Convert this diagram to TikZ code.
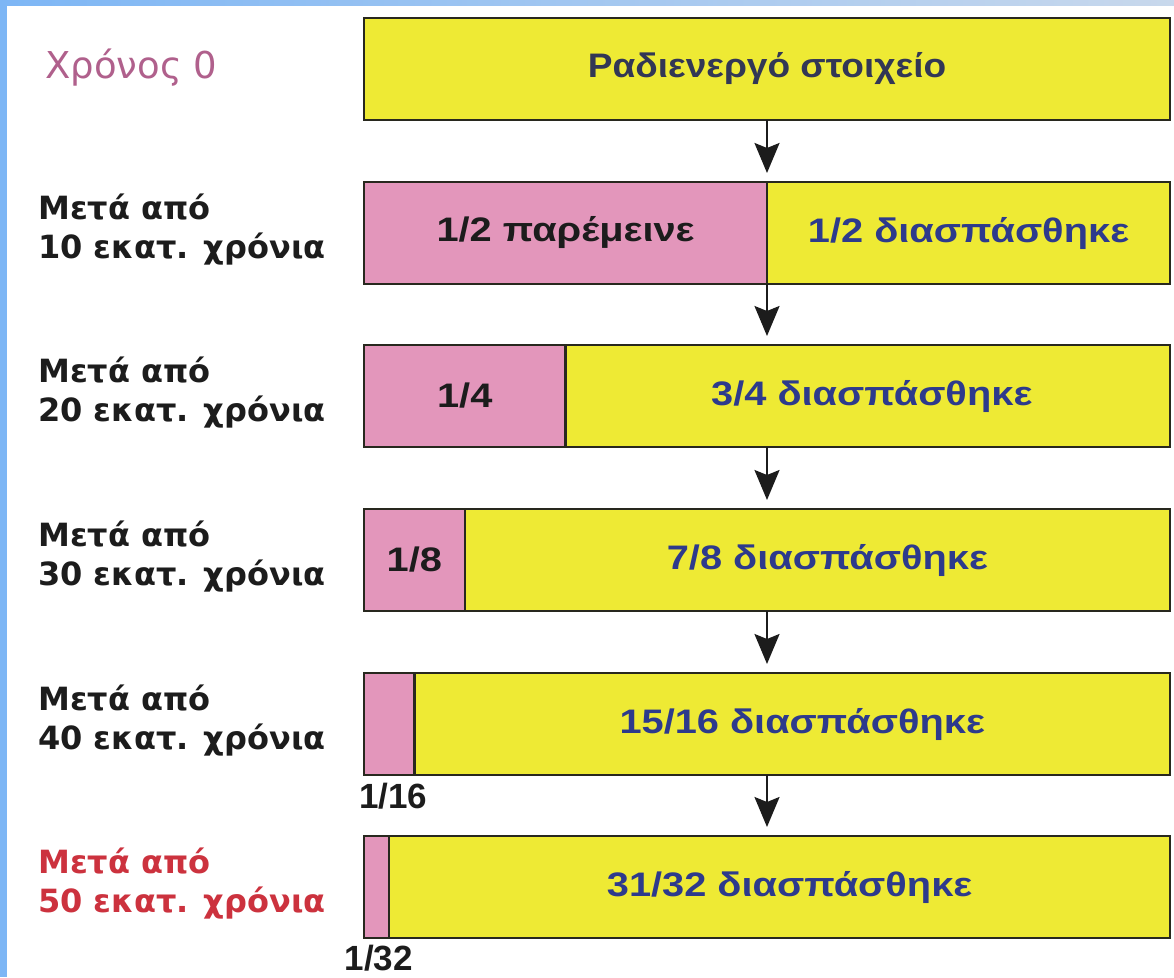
\documentclass[tikz,border=0pt]{standalone}
\usepackage{fontspec}
\setmainfont{Liberation Sans}
\newfontfamily\labfont{DejaVu Sans}
\newfontfamily\barfont[FakeStretch=1.17]{Liberation Sans}
\newfontfamily\headfont[FakeStretch=1.09]{Liberation Sans}
\usetikzlibrary{arrows.meta}
\definecolor{barYellow}{RGB}{238,234,52}
\definecolor{barPink}{RGB}{227,150,187}
\definecolor{txtBlue}{RGB}{45,58,140}
\definecolor{txtDark}{RGB}{28,28,28}
\definecolor{txtNavy}{RGB}{50,55,85}
\definecolor{txtMauve}{RGB}{176,96,140}
\definecolor{txtRed}{RGB}{204,50,62}
\definecolor{edge}{RGB}{40,40,30}
\definecolor{frameA}{RGB}{125,182,245}
\definecolor{frameB}{RGB}{200,216,236}
\begin{document}
\begin{tikzpicture}[x=1pt,y=-1pt,
  barbase/.style={draw=edge, line width=2.5pt, minimum height=102pt, inner sep=0pt, outer sep=0pt},
  ypart/.style={barbase, fill=barYellow, font=\barfont\fontsize{34}{40}\selectfont\bfseries, text=txtBlue},
  ppart/.style={barbase, fill=barPink, font=\barfont\fontsize{34}{40}\selectfont\bfseries, text=txtDark},
  barframe/.style={inner sep=0pt, outer sep=0pt, minimum width=806pt, minimum height=102pt},
  timelab/.style={anchor=west, align=left, inner sep=0pt, font=\labfont\bfseries\fontsize{32}{39}\selectfont, text=txtDark},
  fraclab/.style={anchor=north, inner sep=0pt, font=\fontsize{35}{40}\selectfont\bfseries, text=txtDark},
  flow/.style={-{Stealth[length=30pt,width=25pt,inset=5pt]}, line width=2.2pt, draw=txtDark}
]
\useasboundingbox (0,0) rectangle (1174,977);
\fill[white] (0,0) rectangle (1174,977);
\fill[frameA] (0,0) rectangle (7,977);
\shade[left color=frameA, right color=frameB] (0,0) rectangle (1174,5);

% row 0
\node[ypart, minimum width=806pt, text=txtNavy, font=\headfont\fontsize{34}{40}\selectfont\bfseries] (b0) at (767,69) {Ραδιενεργό στοιχείο};
% row 1
\node[barframe] (b1) at (767,233) {};
\node[ppart, anchor=west, minimum width=403pt] (p1) at (b1.west) {1/2 παρέμεινε};
\node[ypart, anchor=east, minimum width=403pt] (y1) at (b1.east) {1/2 διασπάσθηκε};
% row 2
\node[barframe] (b2) at (767,396) {};
\node[ppart, anchor=west, minimum width=201.5pt] (p2) at (b2.west) {1/4};
\node[ypart, anchor=east, minimum width=604.5pt] (y2) at (b2.east) {\hspace*{8pt}3/4 διασπάσθηκε};
% row 3
\node[barframe] (b3) at (767,560) {};
\node[ppart, anchor=west, minimum width=100.75pt] (p3) at (b3.west) {1/8};
\node[ypart, anchor=east, minimum width=705.25pt] (y3) at (b3.east) {\hspace*{20pt}7/8 διασπάσθηκε};
% row 4
\node[barframe] (b4) at (767,724) {};
\node[ppart, anchor=west, minimum width=50.4pt] (p4) at (b4.west) {};
\node[ypart, anchor=east, minimum width=755.6pt] (y4) at (b4.east) {\hspace*{20pt}15/16 διασπάσθηκε};
% row 5
\node[barframe] (b5) at (767,887) {};
\node[ppart, anchor=west, minimum width=25.2pt] (p5) at (b5.west) {};
\node[ypart, anchor=east, minimum width=780.8pt] (y5) at (b5.east) {\hspace*{20pt}31/32 διασπάσθηκε};

% arrows
\draw[flow] (b0.south) -- ([yshift=9pt]b1.north);
\draw[flow] (b1.south) -- ([yshift=9pt]b2.north);
\draw[flow] (b2.south) -- ([yshift=9pt]b3.north);
\draw[flow] (b3.south) -- ([yshift=9pt]b4.north);
\draw[flow] (b4.south) -- ([yshift=9pt]b5.north);

% small fraction labels
\node[fraclab] (f16) at ([xshift=4pt,yshift=-8pt]p4.south) {1/16};
\node[fraclab] (f32) at ([xshift=2pt,yshift=-7pt]p5.south) {1/32};

% time labels
\node[timelab, text=txtMauve, font=\labfont\fontsize{37}{40}\selectfont] (t0) at (45,68) {Χρόνος 0};
\node[timelab] (t1) at (38,230) {Μετά από\\10 εκατ. χρόνια};
\node[timelab] (t2) at (38,393) {Μετά από\\20 εκατ. χρόνια};
\node[timelab] (t3) at (38,557) {Μετά από\\30 εκατ. χρόνια};
\node[timelab] (t4) at (38,721) {Μετά από\\40 εκατ. χρόνια};
\node[timelab, text=txtRed] (t5) at (38,884) {Μετά από\\50 εκατ. χρόνια};
\end{tikzpicture}
\end{document}
